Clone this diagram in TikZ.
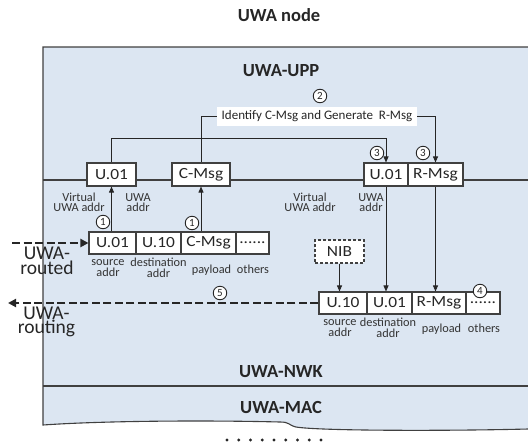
\documentclass[tikz,border=0pt]{standalone}
\usepackage{fontspec}
\setmainfont{Carlito}
\newfontfamily\widefont{Carlito}[FakeStretch=1.12]
\usetikzlibrary{arrows.meta,calc}
\definecolor{txt}{HTML}{262626}
\definecolor{lineg}{HTML}{404040}
\definecolor{lbltxt}{HTML}{333333}
\definecolor{bgblue}{HTML}{DCE6F2}
\tikzset{
  frame/.style={draw=lineg, line width=1.1pt},
  field/.style={draw=lineg, fill=white, line width=1.1pt, minimum height=23pt, inner sep=0pt,
    font=\widefont\fontsize{15.5}{16}\selectfont, text=txt},
  lbl/.style={font=\fontsize{12.3}{10.5}\selectfont, align=center, text=lbltxt, inner sep=0pt},
  head/.style={font=\fontsize{18.5}{20}\selectfont\bfseries, text=txt, inner sep=0pt},
  num/.style={circle, draw=txt, fill=white, line width=0.9pt, minimum size=13.5pt, inner sep=0pt,
    font=\fontsize{11}{10}\selectfont, text=txt},
  link/.style={draw=txt, line width=0.9pt},
  tip/.style={-{Triangle[length=6pt,width=5pt]}},
  flow/.style={draw=txt, line width=2.6pt, dash pattern=on 8pt off 3.5pt,
    -{Triangle[length=8pt,width=8pt]}},
  big/.style={font=\fontsize{19.5}{12}\selectfont, align=center, text=txt, inner sep=0pt},
}
\begin{document}
\begin{tikzpicture}[x=1pt,y=-1pt]
\useasboundingbox (0,0) rectangle (528,445);

% layer stack background with torn lower edge
\fill[bgblue] (43,47) -- (528,47) -- (528,429)
  .. controls (450,431) and (320,431) .. (296,427)
  .. controls (288,425) and (290,422) .. (280,422)
  .. controls (200,420) and (100,421) .. (43,425) -- cycle;
\draw[frame] (528,47) -- (43,47) -- (43,425)
  .. controls (100,421) and (200,420) .. (280,422)
  .. controls (290,422) and (288,425) .. (296,427)
  .. controls (320,431) and (450,431) .. (528,429);
\draw[frame] (43,180) -- (528,180);
\draw[frame] (43,386) -- (528,386);

% headings
\node[head] (title) at (279,15) {UWA node};
\node[head] (upp) at (281,71) {UWA-UPP};
\node[head] (nwk) at (281,372) {UWA-NWK};
\node[head] (mac) at (281,407) {UWA-MAC};

% UPP processing
\node[fill=white, inner sep=0pt, minimum width=200pt, minimum height=19pt,
      font=\fontsize{13}{14}\selectfont, text=txt] (ident) at (317,116)
      {Identify C-Msg and Generate\ \ R-Msg};

% boundary fields, left
\node[field, minimum width=49pt] (ua) at (111.5,174.5) {U.01};
\node[field, minimum width=58pt] (cm) at (201,174.5) {C-Msg};
% boundary fields, right
\node[field, minimum width=44pt] (ub) at (386,174.5) {U.01};
\node[field, minimum width=55pt] (rm) at (435.5,174.5) {R-Msg};

% received packet
\node[field, minimum width=47pt, minimum height=22pt] (lb1) at (112.5,243) {U.01};
\node[field, minimum width=45pt, minimum height=22pt] (lb2) at (158.5,243) {U.10};
\node[field, minimum width=55pt, minimum height=22pt] (lb3) at (208.5,243) {C-Msg};
\node[field, minimum width=33pt, minimum height=22pt] (lb4) at (252.5,243) {......};

% outgoing packet
\node[field, minimum width=48pt, minimum height=22pt] (rb1) at (343,303) {U.10};
\node[field, minimum width=45pt, minimum height=22pt] (rb2) at (389.5,303) {U.01};
\node[field, minimum width=54pt, minimum height=22pt] (rb3) at (439,303) {R-Msg};
\node[field, minimum width=34pt, minimum height=22pt] (rb4) at (483,303) {......};

% network information base
\node[field, dash pattern=on 3pt off 2pt, minimum width=49pt] (nib) at (339.5,251.5) {NIB};

% field labels
\node[lbl] (va1) at (79,202.5) {Virtual\\UWA\ addr};
\node[lbl] (ua1) at (138,202.5) {UWA\\addr};
\node[lbl] (va2) at (310,202.5) {Virtual\\UWA\ addr};
\node[lbl] (ua2) at (371,202.5) {UWA\\addr};

\node[lbl] (ls) at (108,268) {source\\addr};
\node[lbl] (ld) at (158.5,268) {destination\\addr};
\node[lbl] (lp) at (211.5,270) {payload};
\node[lbl] (lo) at (253,269) {others};

\node[lbl] (rs) at (340,328) {source\\addr};
\node[lbl] (rd) at (388,328) {destination\\addr};
\node[lbl] (rp) at (441.5,329) {payload};
\node[lbl] (ro) at (484,328) {others};

% connectors
\draw[link,tip] (ua.south |- lb1.north) -- (ua.south);
\draw[link,tip] (cm.south |- lb3.north) -- (cm.south);
\draw[link,tip] (ua.north) -- ++(0,-24) -| (ub.north);
\draw[link] (ident.west) -| (cm.north);
\draw[link,tip] (ident.east) -| (rm.north);
\draw[link,tip] (ub.south) -- (ub.south |- rb2.north);
\draw[link,tip] (rm.south) -- (rm.south |- rb3.north);
\draw[link,tip] (nib.south) -- (nib.south |- rb1.north);

% packet flows in and out
\coordinate (inStart) at (12,243);
\coordinate (outEnd) at (8,303);
\draw[flow] (inStart) -- (lb1.west);
\draw[flow] (rb1.west) -- (outEnd);
\node[big] (routed) at (47,261) {UWA-\\routed};
\node[big] (routing) at (46.5,322) {UWA-\\routing};

% step markers
\node[num] (s2) at (320,96) {2};
\node[num] (s3a) at (377,153) {3};
\node[num] (s3b) at (423,153) {3};
\node[num] (s1a) at (103,222) {1};
\node[num] (s1b) at (192,223) {1};
\node[num] (s4) at (480,291) {4};
\node[num] (s5) at (220,293) {5};

% lower layers continue
\foreach \i in {0,...,8} \fill[txt] (227+\i*11.75,440) circle (1.7pt);
\end{tikzpicture}
\end{document}
